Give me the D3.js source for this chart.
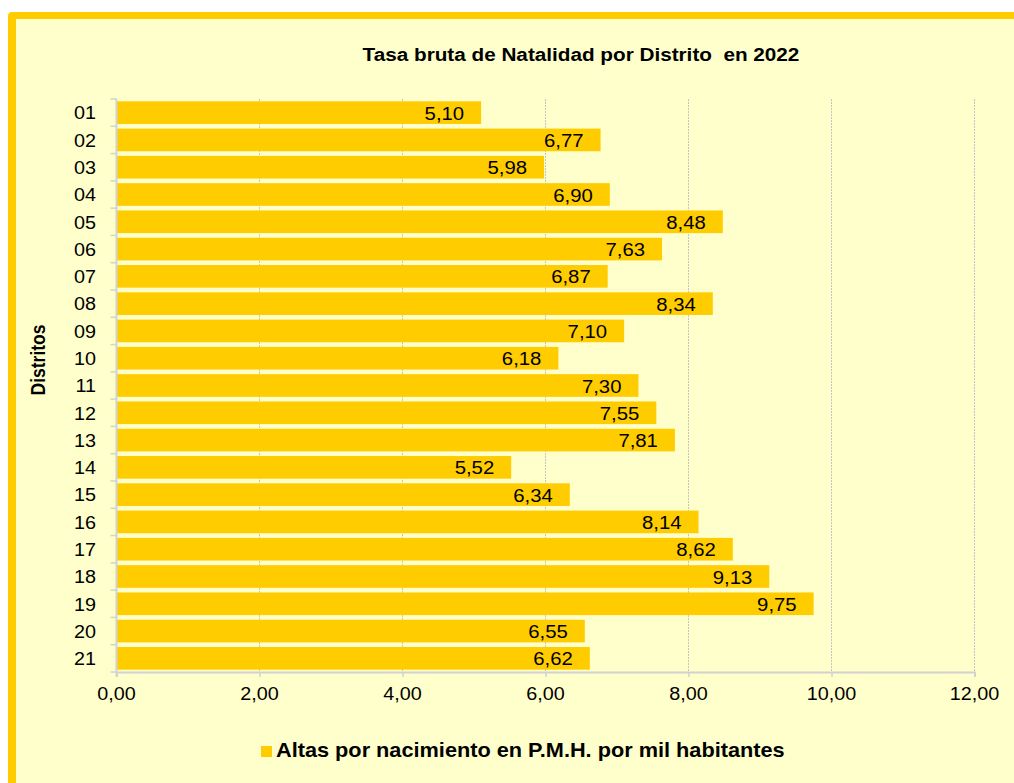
<!DOCTYPE html>
<html>
<head>
<meta charset="utf-8">
<script src="https://cdn.jsdelivr.net/npm/d3@7"></script>
<style>
  body { margin: 0; background: #fff; }
  svg { display: block; font-family: "Liberation Sans", Arial, sans-serif; }
</style>
</head>
<body>
<div id="chartContainer"></div>
<script>
// data
var distritos = ["01","02","03","04","05","06","07","08","09","10","11",
                 "12","13","14","15","16","17","18","19","20","21"];
var tasas = [5.10, 6.77, 5.98, 6.90, 8.48, 7.63, 6.87, 8.34, 7.10, 6.18, 7.30,
             7.55, 7.81, 5.52, 6.34, 8.14, 8.62, 9.13, 9.75, 6.55, 6.62];
var xTicks = [0, 2, 4, 6, 8, 10, 12];
var titulo = "Tasa bruta de Natalidad por Distrito  en 2022";
var serie = "Altas por nacimiento en P.M.H. por mil habitantes";
var ejeY = "Distritos";

var W = 1014, H = 783;
// plot area (window.top is read-only, so prefix these)
var pLeft = 116.5, pRight = 974.5, pTop = 99, pBottom = 672;
var amarillo = "#FFCC00", fondo = "#FFFFCC";
var sx = 1.07, sxBold = 1.12;   // text in the picture is a bit wide

var es = d3.formatLocale({decimal: ",", thousands: ".", grouping: [3], currency: ["", "€"]});
var fmt = es.format(".2f");

var svg = d3.select("#chartContainer").append("svg")
    .attr("width", W).attr("height", H);

// frame
svg.append("rect").attr("x", 8).attr("y", 12).attr("width", 1100).attr("height", 900)
    .attr("rx", 4).attr("fill", amarillo);
svg.append("rect").attr("x", 16).attr("y", 19).attr("width", 1100).attr("height", 900)
    .attr("fill", fondo);

var x = d3.scaleLinear().domain([0, 12]).range([pLeft, pRight]);
var y = d3.scaleBand().domain(distritos).range([pTop, pBottom])
    .paddingInner(0.17).paddingOuter(0.085);

// helper: text placed with a small horizontal stretch
function label(x0, y0, txt, opt) {
  var g = svg.append("g")
      .attr("transform", "translate(" + x0 + "," + y0 + ") scale(" + (opt.bold ? sxBold : sx) + ",1)" + (opt.rotate ? " rotate(-90)" : ""));
  return g.append("text")
      .attr("text-anchor", opt.anchor || "start")
      .style("font-size", opt.size + "px")
      .style("font-weight", opt.bold ? "bold" : "normal")
      .attr("fill", "#000")
      .text(txt);
}

// grid lines
svg.append("g").selectAll("line")
    .data(xTicks.slice(1))
    .enter().append("line")
      .attr("x1", function (d) { return x(d); })
      .attr("x2", function (d) { return x(d); })
      .attr("y1", pTop).attr("y2", pBottom)
      .attr("stroke", "#c4c4c4").attr("stroke-width", 1)
      .attr("stroke-dasharray", "2,1");

// bars
svg.append("g").selectAll("rect")
    .data(tasas)
    .enter().append("rect")
      .attr("x", x(0))
      .attr("y", function (d, i) { return y(distritos[i]); })
      .attr("width", function (d) { return x(d) - x(0); })
      .attr("height", y.bandwidth())
      .attr("fill", amarillo);

// axes
var xAxis = svg.append("g").attr("transform", "translate(0," + pBottom + ")")
    .call(d3.axisBottom(x).tickValues(xTicks).tickSize(5).tickFormat(""));
var yAxis = svg.append("g").attr("transform", "translate(" + pLeft + ",0)")
    .call(d3.axisLeft(y).tickSize(0).tickFormat(""));
[xAxis, yAxis].forEach(function (a) {
  a.selectAll(".domain").attr("stroke", "#d2d2d2").attr("stroke-width", 2);
  a.selectAll(".tick line").attr("stroke", "#d2d2d2").attr("stroke-width", 1.5);
});
yAxis.select(".domain").attr("d", "M0," + pTop + "V" + (pBottom + 5));
// category boundary ticks on the left
svg.append("g").selectAll("line")
    .data(d3.range(distritos.length + 1))
    .enter().append("line")
      .attr("x1", pLeft - 6).attr("x2", pLeft)
      .attr("y1", function (i) { return pTop + i * (pBottom - pTop) / distritos.length; })
      .attr("y2", function (i) { return pTop + i * (pBottom - pTop) / distritos.length; })
      .attr("stroke", "#d2d2d2").attr("stroke-width", 1.5);

// tick labels
xTicks.forEach(function (t) {
  label(x(t), 700, fmt(t), {size: 18.5, anchor: "middle"});
});
distritos.forEach(function (d) {
  label(96, y(d) + y.bandwidth() / 2 + 6.8, d, {size: 18.5, anchor: "end"});
});

// value labels
tasas.forEach(function (v, i) {
  label(x(v) - 17, y(distritos[i]) + y.bandwidth() / 2 + 7, fmt(v), {size: 19, anchor: "end"});
});

// title, axis title, legend
label(581, 61, titulo, {size: 18.5, bold: true, anchor: "middle"}).style("white-space", "pre");
label(45, 360, ejeY, {size: 17.5, bold: true, anchor: "middle", rotate: true});
svg.append("rect").attr("x", 261).attr("y", 746).attr("width", 11).attr("height", 11)
    .attr("fill", amarillo);
label(276, 757, serie, {size: 19.4, bold: true});
</script>
</body>
</html>
